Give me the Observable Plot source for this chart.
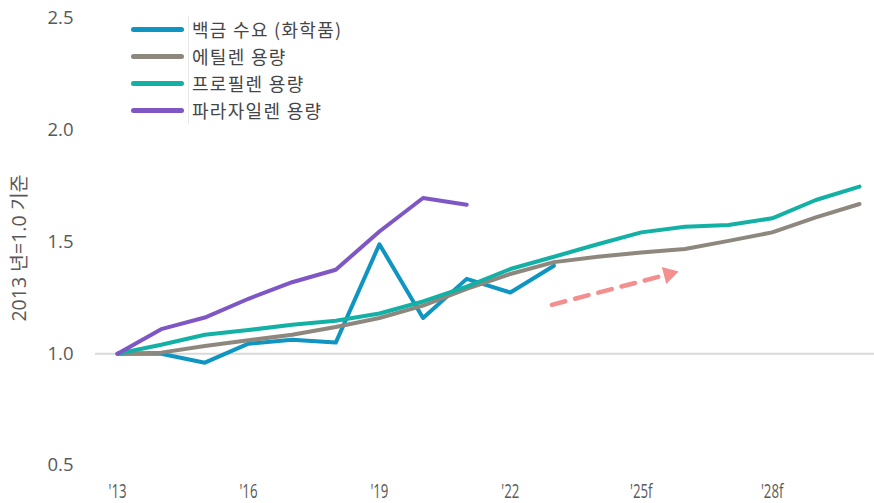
<!DOCTYPE html>
<html>
<head>
<meta charset="utf-8">
<script src="https://cdn.jsdelivr.net/npm/d3@7"></script>
<script src="https://cdn.jsdelivr.net/npm/@observablehq/plot@0.6"></script>
<style>
  html, body { margin: 0; padding: 0; background: #fff; }
  #wrap { position: relative; width: 874px; height: 503px; overflow: hidden; }
  #legend { position: absolute; left: 131px; top: 16px; font-family: "Noto Sans CJK KR", "Noto Sans", sans-serif; font-size: 18px; letter-spacing: 1.3px; color: #454545; }
  #legend .row { display: flex; align-items: center; height: 27px; }
  #legend .sw { width: 53px; height: 5px; border-radius: 3px; margin-right: 4px; }
  #legend .lbl { border-left: 1px solid #e8e8e8; padding-left: 3px; line-height: 27px; }
</style>
</head>
<body>
<div id="wrap"><div id="legend"></div></div>
<script>
const years = d3.range(2013, 2031);
const seriesNames = ["백금 수요 (화학품)", "에틸렌 용량", "프로필렌 용량", "파라자일렌 용량"];
const seriesColors = ["#0f95c1", "#8d877e", "#13b0a5", "#7e57c5"];
const platinum = [1.0, 1.0, 0.96, 1.045, 1.063, 1.05, 1.49, 1.16, 1.335, 1.274, 1.394];
const ethylene = [1.0, 1.005, 1.035, 1.06, 1.085, 1.12, 1.16, 1.215, 1.29, 1.357, 1.41, 1.434, 1.453, 1.469, 1.505, 1.543, 1.61, 1.67];
const propylene = [1.0, 1.04, 1.085, 1.106, 1.13, 1.148, 1.18, 1.234, 1.30, 1.379, 1.434, 1.49, 1.543, 1.568, 1.576, 1.606, 1.688, 1.748];
const paraxylene = [1.0, 1.11, 1.162, 1.246, 1.32, 1.376, 1.547, 1.697, 1.667];
const xTicks = [2013, 2016, 2019, 2022, 2025, 2028];
const xTickLabels = ["'13", "'16", "'19", "'22", "'25f", "'28f"];
const yTicks = [0.5, 1.0, 1.5, 2.0, 2.5];
const yTitle = "2013 년=1.0 기준";
const arrowFrom = {x: 2022.95, y: 1.219};
const arrowTo = {x: 2025.84, y: 1.367};

const allSeries = [platinum, ethylene, propylene, paraxylene];
const data = allSeries.flatMap((vals, i) => vals.map((v, j) => ({year: years[j], value: v, series: seriesNames[i]})));

const chart = Plot.plot({
  width: 874,
  height: 503,
  marginLeft: 95,
  marginRight: 0,
  marginTop: 18,
  marginBottom: 38,
  style: {fontFamily: "'Open Sans', 'Noto Sans', sans-serif", fontSize: "18.5px", color: "#595959", background: "#fff", overflow: "visible"},
  x: {domain: [2012.495, 2030.344], axis: null},
  y: {domain: [0.5, 2.5], axis: null},
  color: {domain: seriesNames, range: seriesColors},
  marks: [
    Plot.ruleY([1.0], {stroke: "#d9d9d9", strokeWidth: 2}),
    Plot.axisY({ticks: yTicks, tickSize: 0, tickPadding: 22, tickFormat: d3.format(".1f"), fill: "#595959", fontSize: 18.5, label: null}),
    Plot.axisX({ticks: xTicks, tickSize: 0, tickPadding: 19, tickFormat: (d) => xTickLabels[xTicks.indexOf(d)], label: null, fill: "#595959", fontSize: 19.5}),
    Plot.text([yTitle], {frameAnchor: "left", textAnchor: "middle", dx: -76, dy: 6, rotate: -90, fill: "#595959", fontSize: 19.5, fontFamily: "'Open Sans', 'Noto Sans CJK KR', sans-serif"}),
    Plot.line(data, {x: "year", y: "value", z: "series", stroke: "series", strokeWidth: 4, strokeLinejoin: "round", strokeLinecap: "round"}),
    Plot.arrow([{x1: arrowFrom.x, y1: arrowFrom.y, x2: arrowTo.x, y2: arrowTo.y}], {x1: "x1", y1: "y1", x2: "x2", y2: "y2", stroke: "#f48f8f", strokeWidth: 4.5, strokeDasharray: "14,10", bend: 0, headLength: 0, insetEnd: 10}),
    Plot.dot([arrowTo], {x: "x", y: "y", symbol: "triangle", r: 6.5, fill: "#f48f8f", stroke: null, rotate: 75, dx: -9, dy: 2.4})
  ]
});
document.getElementById("wrap").appendChild(chart);
chart.style.position = "absolute";
chart.style.left = "0";
chart.style.top = "0";

// condensed look for x tick labels
d3.select(chart).selectAll("g[aria-label='x-axis tick label'] text").each(function () {
  const t = this.getAttribute("transform") || "";
  this.setAttribute("transform", t + " scale(0.68,1)");
});

const legend = document.getElementById("legend");
seriesNames.forEach((name, i) => {
  const row = document.createElement("div");
  row.className = "row";
  const sw = document.createElement("div");
  sw.className = "sw";
  sw.style.background = seriesColors[i];
  const lbl = document.createElement("div");
  lbl.className = "lbl";
  lbl.textContent = name;
  row.appendChild(sw);
  row.appendChild(lbl);
  legend.appendChild(row);
});
document.getElementById("wrap").appendChild(legend);
</script>
</body>
</html>
